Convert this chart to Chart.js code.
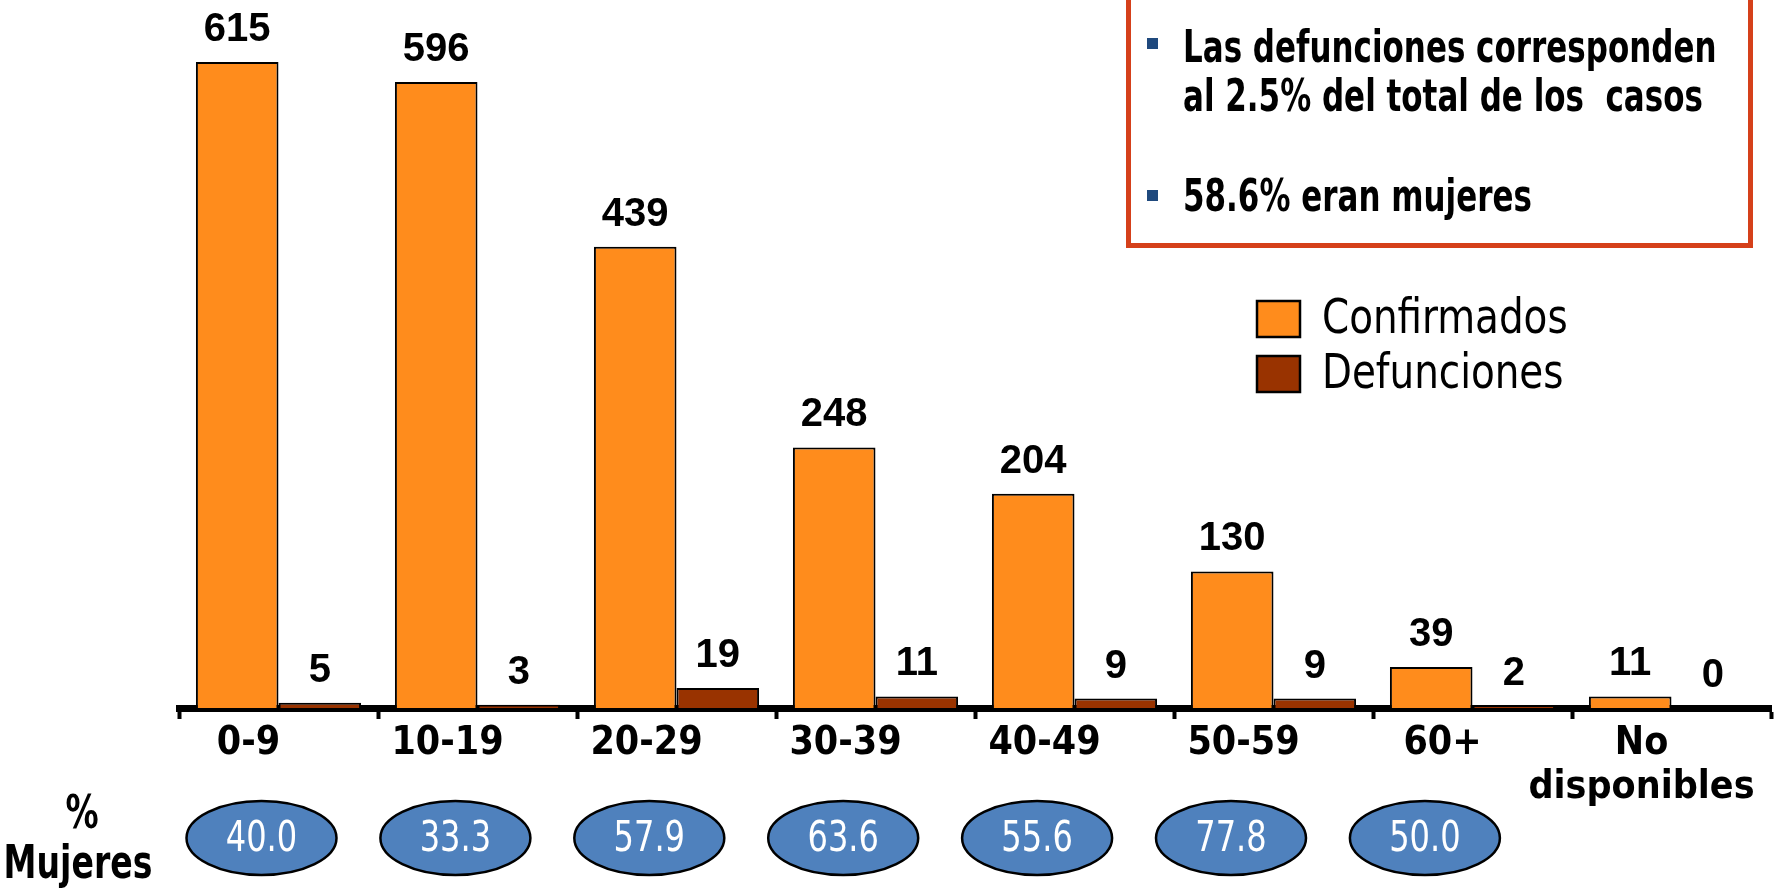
<!DOCTYPE html>
<html>
<head>
<meta charset="utf-8">
<script src="https://cdn.jsdelivr.net/npm/chart.js@4.4.1/dist/chart.umd.min.js"></script>
<style>
  html, body { margin: 0; padding: 0; background: #fff; }
  #wrap { position: relative; width: 1778px; height: 889px; overflow: hidden; }
  #chart { position: absolute; left: 0; top: 0; }
  .note {
    position: absolute; left: 1126px; top: -8px; width: 627px; height: 256px;
    box-sizing: border-box; border: 5px solid #D5401A;
    font-family: "DejaVu Sans Condensed", "DejaVu Sans", sans-serif;
    font-weight: bold; font-size: 45px; color: #000;
  }
  .note .line { position: absolute; left: 52px; white-space: pre; line-height: 1; transform: scaleX(0.765); transform-origin: left center; }
  .note .bullet { position: absolute; left: 16px; width: 11px; height: 11px; background: #1F497D; }
</style>
</head>
<body>
<div id="wrap">
  <canvas id="chart" width="1778" height="889"></canvas>
  <div class="note">
    <div class="bullet" style="top:41px"></div>
    <div class="line" style="top:27px">Las defunciones corresponden</div>
    <div class="line" style="top:76px">al 2.5% del total de los  casos</div>
    <div class="bullet" style="top:193px"></div>
    <div class="line" style="top:176px">58.6% eran mujeres</div>
  </div>
</div>
<script>
// age groups
const categories = ['0-9', '10-19', '20-29', '30-39', '40-49', '50-59', '60+', ['No', 'disponibles']];
const confirmados = [615, 596, 439, 248, 204, 130, 39, 11];
const defunciones = [5, 3, 19, 11, 9, 9, 2, 0];
// % mujeres among deaths, none for "No disponibles"
const pctMujeres = [40.0, 33.3, 57.9, 63.6, 55.6, 77.8, 50.0, null];

const NARROW = '"DejaVu Sans Condensed", "DejaVu Sans", sans-serif';

// squeezed text, the slide fonts are narrower than anything installed
function narrowText(ctx, text, x, y, sx) {
  ctx.save();
  ctx.translate(x, y);
  ctx.scale(sx, 1);
  ctx.fillText(text, 0, 0);
  ctx.restore();
}

const extras = {
  id: 'extras',
  afterDatasetsDraw(chart) {
    const ctx = chart.ctx;
    ctx.save();

    // value labels above bars
    ctx.fillStyle = '#000';
    ctx.font = 'bold 40px "Liberation Sans", Arial, sans-serif';
    ctx.textAlign = 'center';
    ctx.textBaseline = 'alphabetic';
    chart.data.datasets.forEach((ds, di) => {
      chart.getDatasetMeta(di).data.forEach((bar, i) => {
        ctx.fillText(String(ds.data[i]), bar.x, bar.y - 21);
      });
    });

    // % mujeres ellipses
    const xs = chart.scales.x;
    pctMujeres.forEach((p, i) => {
      if (p === null) return;
      const cx = xs.getPixelForValue(i) - 17 - 5.1 * i;
      ctx.beginPath();
      ctx.ellipse(cx, 838, 75, 37, 0, 0, Math.PI * 2);
      ctx.fillStyle = '#4F81BD';
      ctx.fill();
      ctx.lineWidth = 2.5;
      ctx.strokeStyle = '#000';
      ctx.stroke();
      ctx.fillStyle = '#fff';
      ctx.font = '42px ' + NARROW;
      ctx.textBaseline = 'middle';
      narrowText(ctx, p.toFixed(1), cx, 840, 0.85);
    });

    ctx.fillStyle = '#000';
    ctx.font = 'bold 46px ' + NARROW;
    narrowText(ctx, '%', 82, 816, 0.8);
    narrowText(ctx, 'Mujeres', 78, 866, 0.8);

    // legend
    ctx.textAlign = 'left';
    chart.data.datasets.forEach((ds, i) => {
      const y = 301 + i * 55;
      ctx.fillStyle = ds.backgroundColor;
      ctx.fillRect(1257, y, 43, 36);
      ctx.lineWidth = 2.5;
      ctx.strokeStyle = '#000';
      ctx.strokeRect(1257, y, 43, 36);
      ctx.fillStyle = '#000';
      ctx.font = '48px ' + NARROW;
      narrowText(ctx, ds.label, 1322, y + 20, 0.9);
    });
    ctx.restore();
  }
};

new Chart(document.getElementById('chart'), {
  type: 'bar',
  data: {
    labels: categories,
    datasets: [
      { label: 'Confirmados', data: confirmados, backgroundColor: '#FF8C1C', borderColor: '#000', borderWidth: 2 },
      { label: 'Defunciones', data: defunciones, backgroundColor: '#993300', borderColor: '#000', borderWidth: 2 }
    ]
  },
  options: {
    responsive: false,
    animation: false,
    layout: { padding: { left: 179, right: 7, top: 0, bottom: 0 } },
    datasets: { bar: { categoryPercentage: 0.83, barPercentage: 1.0 } },
    plugins: { legend: { display: false }, tooltip: { enabled: false } },
    scales: {
      y: { display: false, min: 0, max: 674 },
      x: {
        offset: true,
        grid: { display: true, drawOnChartArea: false, drawTicks: true, tickLength: 11, tickWidth: 4, tickColor: '#000', offset: true },
        border: { display: true, color: '#000', width: 7 },
        ticks: {
          color: '#000',
          font: { family: NARROW, weight: 'bold', size: 39, lineHeight: 1.15 },
          padding: 2,
          labelOffset: -30,
          maxRotation: 0,
          autoSkip: false
        },
        afterFit(scale) {
          scale.height = 181;
          scale.paddingLeft = 0;
          scale.paddingRight = 0;
        }
      }
    }
  },
  plugins: [extras]
});
</script>
</body>
</html>
